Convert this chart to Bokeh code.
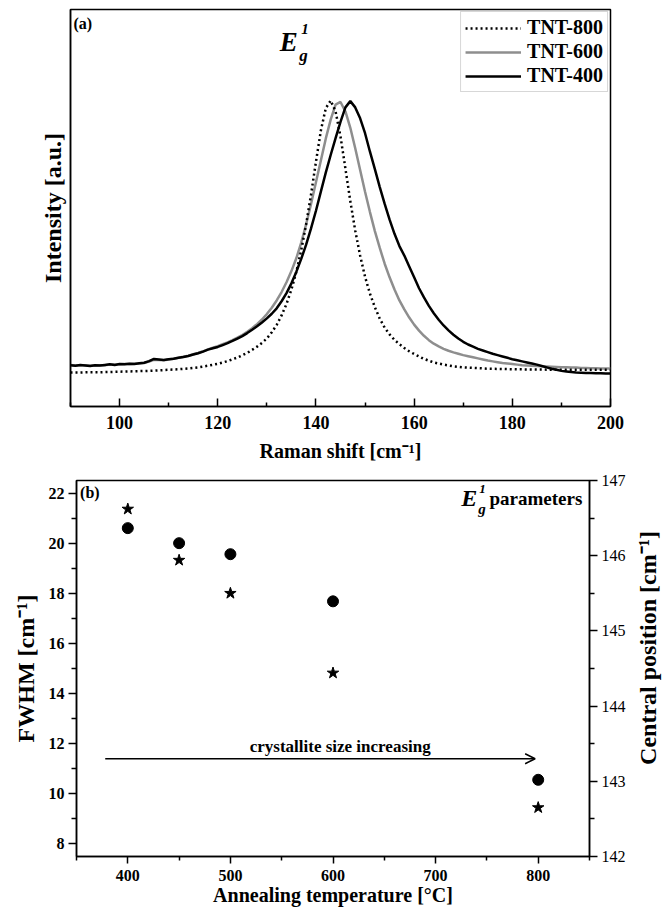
import math
from bokeh.plotting import figure
from bokeh.layouts import column, row
from bokeh.models import (Range1d, LinearAxis, FixedTicker, Legend, LegendItem,
                          Label, Arrow, OpenHead)
from bokeh.embed import file_html
from bokeh.resources import INLINE

FONT = "Liberation Serif"

# ---------------- panel (a) data: Raman spectra (normalised intensity) ----------------
shift_800 = [90, 92, 94, 96, 98, 100, 102, 104, 106, 108, 110, 112, 114, 116, 118, 120,
             122, 124, 126, 128, 129, 130, 131, 132, 133, 134, 135, 136, 137, 138, 139,
             140, 141, 142, 143, 144, 145, 146, 147, 148, 149, 150, 151, 152, 153, 154,
             155, 156, 157, 158, 159, 160, 162, 164, 166, 168, 170, 175, 180, 185, 190,
             195, 200]
int_800 = [0.000, 0.000, 0.001, 0.001, 0.002, 0.003, 0.004, 0.005, 0.006, 0.008, 0.010,
           0.012, 0.015, 0.019, 0.025, 0.032, 0.042, 0.055, 0.072, 0.095, 0.109, 0.125,
           0.148, 0.175, 0.210, 0.252, 0.305, 0.370, 0.450, 0.545, 0.655, 0.775, 0.890,
           0.972, 1.000, 0.960, 0.868, 0.750, 0.630, 0.522, 0.430, 0.352, 0.290, 0.240,
           0.198, 0.165, 0.140, 0.120, 0.104, 0.090, 0.078, 0.068, 0.050, 0.037, 0.029,
           0.023, 0.019, 0.014, 0.012, 0.011, 0.010, 0.010, 0.010]

shift_600 = list(range(90, 201))
int_600 = [0.028, 0.026, 0.027, 0.027, 0.025, 0.026, 0.027, 0.027, 0.029, 0.029,
           0.030, 0.031, 0.031, 0.032, 0.033, 0.035, 0.040, 0.047, 0.046, 0.045,
           0.048, 0.051, 0.054, 0.058, 0.062, 0.067, 0.072, 0.078, 0.085, 0.091,
           0.097, 0.104, 0.111, 0.119, 0.128, 0.138, 0.150, 0.163, 0.178, 0.195,
           0.215, 0.238, 0.265, 0.296, 0.332, 0.373, 0.420, 0.478, 0.545, 0.620,
           0.700, 0.780, 0.860, 0.930, 0.985, 0.995, 0.960, 0.900, 0.825, 0.745,
           0.665, 0.590, 0.520, 0.458, 0.400, 0.350, 0.305, 0.265, 0.232, 0.202,
           0.176, 0.154, 0.135, 0.119, 0.106, 0.096, 0.087, 0.080, 0.074, 0.069,
           0.064, 0.060, 0.056, 0.052, 0.048, 0.044, 0.041, 0.038, 0.035, 0.033,
           0.031, 0.029, 0.027, 0.026, 0.025, 0.024, 0.023, 0.022, 0.021, 0.020,
           0.019, 0.019, 0.018, 0.018, 0.017, 0.017, 0.016, 0.016, 0.015, 0.015,
           0.015]

shift_400 = list(range(90, 201))
int_400 = [0.027, 0.025, 0.028, 0.026, 0.024, 0.027, 0.026, 0.028, 0.030, 0.028,
           0.031, 0.030, 0.032, 0.031, 0.034, 0.036, 0.042, 0.050, 0.048, 0.046,
           0.049, 0.051, 0.054, 0.057, 0.061, 0.066, 0.071, 0.077, 0.084, 0.089,
           0.094, 0.101, 0.108, 0.116, 0.125, 0.134, 0.145, 0.157, 0.170, 0.184,
           0.199, 0.216, 0.236, 0.262, 0.292, 0.328, 0.370, 0.418, 0.470, 0.530,
           0.595, 0.665, 0.735, 0.800, 0.862, 0.922, 0.975, 0.998, 0.975, 0.935,
           0.880, 0.812, 0.748, 0.682, 0.620, 0.562, 0.510, 0.465, 0.430, 0.390,
           0.350, 0.310, 0.276, 0.245, 0.218, 0.194, 0.173, 0.155, 0.139, 0.125,
           0.113, 0.103, 0.095, 0.087, 0.081, 0.075, 0.069, 0.064, 0.059, 0.054,
           0.049, 0.045, 0.041, 0.037, 0.033, 0.029, 0.024, 0.019, 0.014, 0.010,
           0.006, 0.004, 0.002, 0.000, -0.001, -0.002, -0.002, -0.003, -0.003, -0.004,
           -0.004]

x_ticks_a = [100, 120, 140, 160, 180, 200]
x_minor_a = [90, 110, 130, 150, 170, 190]

# ---------------- panel (b) data ----------------
temps = [400, 450, 500, 600, 800]
fwhm = [20.6, 20.0, 19.56, 17.68, 10.56]
position = [146.62, 145.94, 145.5, 144.44, 142.65]

x_ticks_b = [400, 500, 600, 700, 800]
x_minor_b = [350, 450, 550, 650, 750, 850]
fwhm_ticks = [8, 10, 12, 14, 16, 18, 20, 22]
fwhm_minor = [9, 11, 13, 15, 17, 19, 21]
pos_ticks = [142, 143, 144, 145, 146, 147]
pos_minor = [142.5, 143.5, 144.5, 145.5, 146.5]


def style_text_axis(ax, tick_size, label_size, bold_ticks=True):
    ax.major_label_text_font = FONT
    ax.major_label_text_font_size = tick_size
    ax.major_label_text_font_style = "bold" if bold_ticks else "normal"
    ax.major_label_text_color = "black"
    ax.axis_label_text_font = FONT
    ax.axis_label_text_font_size = label_size
    ax.axis_label_text_font_style = "bold"
    ax.axis_label_text_color = "black"
    ax.axis_line_color = "black"
    ax.axis_line_width = 1.5
    ax.major_tick_line_color = "black"
    ax.major_tick_line_width = 1.5
    ax.minor_tick_line_color = "black"
    ax.minor_tick_line_width = 1.5


def txt(x, y, s, size, style="bold", align="left", baseline="middle", angle=0.0):
    return Label(x=x, y=y, text=s, text_font=FONT, text_font_size=size,
                 text_font_style=style, text_color="black", text_align=align,
                 text_baseline=baseline, angle=angle)


# ================= panel (a) =================
p1 = figure(frame_width=540, frame_height=397, output_backend="svg", toolbar_location=None,
            x_range=Range1d(90, 200), y_range=Range1d(-0.125, 1.335),
            min_border_left=70, min_border_right=62, min_border_top=9,
            min_border_bottom=66)
p1.grid.visible = False
p1.outline_line_color = "black"
p1.outline_line_width = 1.5

r600 = p1.line(shift_600, int_600, line_color="#8e8e8e", line_width=2.5)
r400 = p1.line(shift_400, int_400, line_color="black", line_width=2.5)
r800 = p1.line(shift_800, int_800, line_color="black", line_width=2.5, line_dash="2 3")

xa = p1.xaxis[0]
xa.ticker = FixedTicker(ticks=x_ticks_a, minor_ticks=x_minor_a)
xa.axis_label = "Raman shift [cm\u207b\u00b9]"
style_text_axis(xa, "18px", "20px")
xa.major_tick_in = 8
xa.major_tick_out = 0
xa.minor_tick_in = 4
xa.minor_tick_out = 0
xa.major_label_standoff = 9
xa.axis_label_standoff = 8

ya = p1.yaxis[0]
ya.ticker = FixedTicker(ticks=[], minor_ticks=[])
ya.axis_label = "Intensity [a.u.]"
style_text_axis(ya, "18px", "24px")
ya.major_tick_in = 0
ya.major_tick_out = 0
ya.minor_tick_in = 0
ya.minor_tick_out = 0
ya.major_label_standoff = 0
ya.axis_label_standoff = 5

legend = Legend(items=[LegendItem(label="TNT-800", renderers=[r800]),
                       LegendItem(label="TNT-600", renderers=[r600]),
                       LegendItem(label="TNT-400", renderers=[r400])],
                location="top_right")
legend.label_text_font = FONT
legend.label_text_font_style = "bold"
legend.label_text_font_size = "20px"
legend.label_text_color = "black"
legend.glyph_width = 56
legend.glyph_height = 20
legend.label_height = 20
legend.spacing = 1
legend.padding = 4
legend.margin = 2
legend.label_standoff = 6
legend.border_line_color = "#b0b0b0"
legend.border_line_width = 1.5
legend.background_fill_alpha = 1.0
p1.add_layout(legend)

p1.add_layout(txt(90.6, 1.283, "(a)", "16px"))
p1.add_layout(txt(132.6, 1.217, "E", "27px", "bold italic"))
p1.add_layout(txt(137.0, 1.262, "1", "15px", "bold italic"))
p1.add_layout(txt(136.6, 1.166, "g", "17px", "bold italic"))

# ================= panel (b) =================
p2 = figure(width=629, height=440, output_backend="svg", toolbar_location=None,
            x_range=Range1d(350, 850), y_range=Range1d(7.5, 22.5),
            min_border_left=76, min_border_right=40, min_border_top=8,
            min_border_bottom=56)
p2.grid.visible = False
p2.outline_line_color = "black"
p2.outline_line_width = 1.5
p2.extra_y_ranges = {"pos": Range1d(142, 147)}

p2.scatter(temps, fwhm, marker="circle", size=11, fill_color="black", line_color="black")
p2.scatter(temps, position, marker="star", size=12, fill_color="black", line_color="black",
           y_range_name="pos")

xb = p2.xaxis[0]
xb.ticker = FixedTicker(ticks=x_ticks_b, minor_ticks=x_minor_b)
xb.axis_label = "Annealing temperature [\u00b0C]"
style_text_axis(xb, "16px", "20px")
xb.major_tick_in = 0
xb.major_tick_out = 7
xb.minor_tick_in = 0
xb.minor_tick_out = 4
xb.major_label_standoff = 6
xb.axis_label_standoff = 0

yb = p2.yaxis[0]
yb.ticker = FixedTicker(ticks=fwhm_ticks, minor_ticks=fwhm_minor)
yb.axis_label = "FWHM [cm\u207b\u00b9]"
style_text_axis(yb, "16px", "24px")
yb.major_tick_in = 0
yb.major_tick_out = 8
yb.minor_tick_in = 0
yb.minor_tick_out = 5
yb.major_label_standoff = 4
yb.axis_label_standoff = 7

yr = LinearAxis(y_range_name="pos", ticker=FixedTicker(ticks=pos_ticks, minor_ticks=pos_minor))
style_text_axis(yr, "16px", "20px", bold_ticks=False)
yr.major_tick_in = 0
yr.major_tick_out = 8
yr.minor_tick_in = 0
yr.minor_tick_out = 5
yr.major_label_standoff = 4
p2.add_layout(yr, "right")

p2.add_layout(txt(353.5, 22.03, "(b)", "16px"))
p2.add_layout(txt(843, 21.8, "parameters", "19px", align="right"))
p2.add_layout(txt(725, 21.8, "E", "24px", "bold italic"))
p2.add_layout(txt(742.5, 22.18, "1", "13px", "bold italic"))
p2.add_layout(txt(741.5, 21.35, "g", "15px", "bold italic"))

p2.add_layout(Arrow(x_start=378, y_start=11.4, x_end=797, y_end=11.4, line_width=1.5,
                    end=OpenHead(size=10, line_width=1.5, line_color="black")))
p2.add_layout(txt(607, 11.87, "crystallite size increasing", "17px", align="center"))

# strip holding the right-hand axis title (reads bottom to top, as in the original)
strip = figure(width=43, height=440, output_backend="svg", toolbar_location=None,
               x_range=Range1d(0, 43), y_range=Range1d(0, 440),
               min_border_left=0, min_border_right=0, min_border_top=0, min_border_bottom=0)
strip.axis.visible = False
strip.grid.visible = False
strip.outline_line_color = None
strip.add_layout(txt(18, 244, "Central position [cm\u207b\u00b9]", "24px", align="center",
                     angle=math.pi / 2))

layout = column(p1, row(p2, strip, spacing=0), spacing=0)
open("out.html", "w").write(file_html(layout, INLINE))
